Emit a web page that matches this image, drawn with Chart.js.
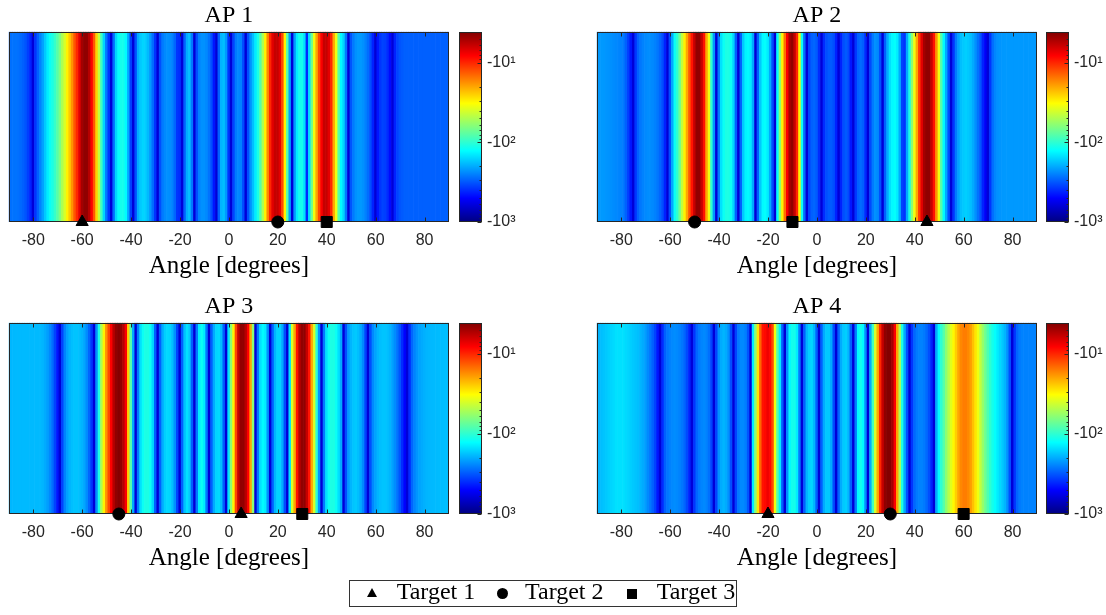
<!DOCTYPE html>
<html>
<head>
<meta charset="utf-8">
<script src="https://cdn.jsdelivr.net/npm/chart.js@4.4.0/dist/chart.umd.min.js"></script>
<style>
html,body{margin:0;padding:0;background:#fff;}
#wrap{position:relative;width:1106px;height:615px;overflow:hidden;background:#fff;}
canvas{position:absolute;}
#legend{position:absolute;left:349px;top:580px;width:388px;height:27px;box-sizing:border-box;border:1px solid #333;background:#fff;}
#legend .txt{position:absolute;top:-2px;font-family:"Liberation Serif",serif;font-size:24px;line-height:24px;color:#000;white-space:nowrap;}
#legend .tri{position:absolute;width:0;height:0;border-left:5.5px solid transparent;border-right:5.5px solid transparent;border-bottom:9.5px solid #000;}
#legend .dot{position:absolute;width:11.5px;height:11.5px;border-radius:50%;background:#000;}
#legend .sq{position:absolute;width:10.5px;height:10px;background:#000;}
</style>
</head>
<body>
<div id="wrap">
  <canvas id="h1" width="460" height="290" style="left:0px;top:0px"></canvas>
  <canvas id="c1" width="63" height="290" style="left:459px;top:0px"></canvas>
  <canvas id="h2" width="460" height="290" style="left:588px;top:0px"></canvas>
  <canvas id="c2" width="60" height="290" style="left:1046px;top:0px"></canvas>
  <canvas id="h3" width="460" height="291" style="left:0px;top:291px"></canvas>
  <canvas id="c3" width="63" height="291" style="left:459px;top:291px"></canvas>
  <canvas id="h4" width="460" height="291" style="left:588px;top:291px"></canvas>
  <canvas id="c4" width="60" height="291" style="left:1046px;top:291px"></canvas>
  <div id="legend">
    <span class="tri" style="left:16.7px;top:7px"></span>
    <span class="txt" style="left:46.7px">Target 1</span>
    <span class="dot" style="left:146.7px;top:6.7px"></span>
    <span class="txt" style="left:175px">Target 2</span>
    <span class="sq" style="left:276.7px;top:8px"></span>
    <span class="txt" style="left:306.7px">Target 3</span>
  </div>
</div>
<script>
// ---------------- data ----------------
const panelTitles = ['AP 1', 'AP 2', 'AP 3', 'AP 4'];
const angles = Array.from({length: 181}, (_, i) => i - 90);   // -90 ... 90 degrees
const xTickValues = [-80, -60, -40, -20, 0, 20, 40, 60, 80];
const axisLabel = 'Angle [degrees]';

// values for angles -90 ... 90 (one per degree)
const ap1Values = [
  -280,-275,-270,-270,-275,-285,-300,-320,-360,-420,
  -620,-380,-300,-250,-210,-170,-140,-120,-110,-95,
  -80,-65,-50,-40,-30,-24,-18,-13,-10,-7,
  -5,-4.5,-4.5,-5.5,-8,-13,-25,-45,-90,-160,
  -260,-380,-620,-280,-160,-125,-115,-115,-130,-200,
  -360,-620,-330,-200,-170,-160,-165,-185,-220,-280,
  -380,-620,-330,-260,-240,-230,-235,-250,-290,-380,
  -400,-620,-300,-200,-180,-260,-620,-330,-250,-230,
  -230,-240,-270,-330,-450,-620,-300,-190,-180,-220,
  -380,-620,-350,-260,-240,-250,-330,-620,-330,-230,
  -180,-140,-110,-80,-50,-30,-17,-10,-7,-6,
  -6,-7,-12,-30,-80,-220,-620,-220,-140,-115,
  -115,-150,-400,-150,-70,-35,-20,-12,-8,-6,
  -6,-7,-10,-20,-35,-80,-130,-160,-260,-620,
  -320,-260,-230,-220,-220,-230,-250,-280,-330,-420,
  -620,-450,-380,-350,-360,-400,-480,-620,-420,-350,
  -320,-310,-300,-300,-300,-300,-300,-300,-300,-300,
  -300,-300,-300,-300,-300,-300,-300,-300,-300,-300,
  -300
];
const ap2Values = [
  -220,-220,-220,-222,-225,-228,-232,-236,-240,-245,
  -250,-260,-300,-360,-450,-620,-380,-300,-265,-250,
  -240,-235,-235,-240,-250,-265,-290,-330,-420,-620,
  -330,-200,-120,-100,-70,-45,-30,-20,-13,-9,
  -6,-4.5,-4.5,-6,-9,-20,-35,-100,-220,-620,
  -260,-150,-120,-110,-110,-120,-160,-300,-620,-300,
  -170,-135,-130,-140,-200,-620,-300,-170,-130,-125,
  -140,-200,-330,-620,-130,-60,-30,-15,-8,-5,
  -4.5,-6,-10,-30,-120,-280,-620,-350,-300,-290,
  -310,-400,-620,-400,-330,-310,-310,-330,-420,-620,
  -420,-330,-310,-340,-450,-620,-380,-300,-280,-300,
  -400,-620,-340,-260,-230,-240,-330,-620,-300,-200,
  -150,-130,-125,-140,-200,-350,-380,-200,-110,-60,
  -35,-20,-11,-7,-5,-4.5,-4.5,-6,-9,-18,
  -35,-80,-130,-200,-330,-620,-380,-260,-210,-180,
  -170,-165,-170,-180,-200,-230,-270,-320,-420,-520,
  -620,-380,-280,-245,-230,-225,-222,-220,-220,-220,
  -220,-220,-220,-220,-220,-220,-220,-220,-220,-220,
  -220
];
const ap3Values = [
  -190,-188,-186,-185,-185,-185,-185,-185,-185,-185,
  -185,-185,-185,-185,-190,-200,-215,-240,-280,-350,
  -450,-620,-350,-250,-210,-190,-180,-175,-175,-180,
  -190,-205,-235,-290,-380,-620,-230,-110,-50,-30,
  -18,-12,-8,-5.5,-4.5,-4.2,-4.5,-5.5,-8,-25,
  -80,-200,-620,-260,-150,-120,-110,-110,-120,-160,
  -300,-620,-300,-200,-165,-155,-160,-180,-230,-350,
  -620,-300,-180,-150,-170,-300,-620,-260,-140,-120,
  -140,-260,-620,-300,-200,-160,-155,-180,-300,-620,
  -150,-60,-30,-12,-6,-4.5,-4.5,-5.5,-8,-20,
  -60,-620,-260,-150,-130,-140,-230,-620,-300,-190,
  -160,-160,-200,-330,-620,-150,-40,-20,-9,-5.5,
  -4.5,-4.5,-6,-9,-20,-40,-100,-230,-620,-260,
  -150,-120,-110,-110,-120,-150,-200,-620,-330,-220,
  -190,-175,-170,-180,-200,-240,-350,-620,-330,-240,
  -210,-190,-180,-175,-175,-180,-190,-210,-235,-270,
  -320,-400,-500,-620,-400,-290,-250,-225,-210,-200,
  -195,-190,-188,-186,-185,-184,-183,-182,-181,-180,
  -180
];
const ap4Values = [
  -200,-190,-180,-175,-170,-165,-160,-155,-150,-150,
  -150,-150,-155,-160,-165,-170,-175,-180,-190,-200,
  -215,-240,-265,-300,-350,-450,-620,-400,-300,-265,
  -250,-240,-235,-240,-250,-265,-290,-340,-420,-620,
  -380,-290,-260,-245,-240,-250,-275,-350,-620,-350,
  -230,-200,-190,-200,-230,-330,-620,-350,-260,-240,
  -240,-255,-320,-620,-140,-60,-28,-14,-9,-8.5,
  -7.5,-8.5,-12,-35,-80,-140,-300,-620,-230,-130,
  -115,-115,-140,-260,-620,-300,-190,-165,-160,-190,
  -300,-620,-300,-200,-170,-170,-200,-330,-620,-300,
  -200,-170,-165,-190,-300,-620,-260,-130,-115,-130,
  -230,-620,-200,-90,-40,-20,-10,-6,-4.5,-4.2,
  -4.2,-5,-8,-20,-50,-110,-200,-330,-620,-380,
  -290,-260,-250,-250,-260,-285,-330,-420,-620,-200,
  -130,-100,-80,-60,-48,-38,-31,-25,-20,-17,
  -16,-16,-17,-19,-23,-28,-35,-45,-57,-70,
  -85,-100,-115,-125,-140,-155,-170,-190,-230,-330,
  -620,-380,-290,-260,-250,-250,-250,-250,-250,-250,
  -250
];

// target angles per panel: [Target 1, Target 2, Target 3]
const target1Angles = [-60, 45, 5, -20];
const target2Angles = [20, -50, -45, 30];
const target3Angles = [40, -10, 30, 60];
const targetNames = ['Target 1', 'Target 2', 'Target 3'];

// colour bar (magnitudes of the negative values, log scale)
const cbTop = 4.1;      // |value| at top of the colour bar
const cbBottom = 1000;  // |value| at bottom of the colour bar
const cbTickValues = [10, 100, 1000];
const cbTickLabels = ['-10\u00B9', '-10\u00B2', '-10\u00B3'];
const cbMinorTicks = [5, 6, 7, 8, 9, 20, 30, 40, 50, 60, 70, 80, 90, 200, 300, 400, 500, 600, 700, 800, 900];

// ---------------- helpers ----------------
const AXIS_COLOR = '#262626';
function jet(t) {
  const c = x => Math.max(0, Math.min(1, x));
  return [c(Math.min(4 * t - 1.5, -4 * t + 4.5)), c(Math.min(4 * t - 0.5, -4 * t + 3.5)), c(Math.min(4 * t + 0.5, -4 * t + 2.5))];
}
function jetCss(t) {
  const [r, g, b] = jet(t);
  return 'rgb(' + Math.round(r * 255) + ',' + Math.round(g * 255) + ',' + Math.round(b * 255) + ')';
}
const lgTop = Math.log10(cbTop), lgBot = Math.log10(cbBottom);
function valueToColor(v) {
  const lg = Math.log10(Math.abs(v));
  const t = Math.max(0, Math.min(1, (lgBot - lg) / (lgBot - lgTop)));
  return jetCss(t);
}

const heatFrame = {
  id: 'heatFrame',
  afterDatasetDraw(chart, args) {
    if (args.index !== 0) return;
    const {ctx, chartArea: a, scales: {x}} = chart;
    ctx.save();
    ctx.strokeStyle = AXIS_COLOR;
    ctx.lineWidth = 1;
    const L = Math.round(a.left) + 0.5, R = Math.round(a.right) - 0.5;
    const T = Math.round(a.top) + 0.5, B = Math.round(a.bottom) - 0.5;
    ctx.strokeRect(L, T, R - L, B - T);
    ctx.beginPath();
    xTickValues.forEach(v => {
      const px = Math.round(x.getPixelForValue(v)) + 0.5;
      ctx.moveTo(px, T); ctx.lineTo(px, T + 4);
      ctx.moveTo(px, B); ctx.lineTo(px, B - 4);
    });
    ctx.stroke();
    ctx.restore();
  }
};

const cbFrame = {
  id: 'cbFrame',
  afterDatasetsDraw(chart) {
    const {ctx, chartArea: a, scales: {y}} = chart;
    ctx.save();
    ctx.strokeStyle = AXIS_COLOR;
    ctx.lineWidth = 1;
    const L = Math.round(a.left) + 0.5, R = Math.round(a.right) - 0.5;
    const T = Math.round(a.top) + 0.5, B = Math.round(a.bottom) - 0.5;
    ctx.strokeRect(L, T, R - L, B - T);
    ctx.beginPath();
    cbMinorTicks.forEach(v => {
      const py = Math.round(y.getPixelForValue(v)) + 0.5;
      ctx.moveTo(R, py); ctx.lineTo(R - 2, py);
    });
    cbTickValues.forEach(v => {
      const py = Math.round(y.getPixelForValue(v)) + 0.5;
      ctx.moveTo(R, py); ctx.lineTo(R - 4, py);
    });
    ctx.stroke();
    ctx.restore();
  }
};

function makeHeat(id, title, values, t1, t2, t3) {
  const bars = angles.map(a => ({x: a, y: [0, 1]}));
  const marker = (angle, style, r, name) => ({
    type: 'scatter', label: name, data: [{x: angle, y: 0}], pointStyle: style, radius: r,
    backgroundColor: '#000', borderColor: '#000', borderWidth: 1, clip: false, order: 0
  });
  new Chart(document.getElementById(id), {
    type: 'bar',
    data: {
      datasets: [
        {type: 'bar', data: bars, backgroundColor: values.map(valueToColor), borderWidth: 0,
         barPercentage: 1, categoryPercentage: 1, order: 10},
        marker(t1, 'triangle', 7, targetNames[0]),
        marker(t2, 'circle', 6, targetNames[1]),
        marker(t3, 'rect', 7.8, targetNames[2])
      ]
    },
    options: {
      responsive: false, animation: false, events: [],
      layout: {padding: {left: 8, right: 11, top: 0, bottom: 0}},
      plugins: {
        legend: {display: false}, tooltip: {enabled: false},
        title: {display: true, text: title, color: '#000', fullSize: false,
                font: {family: 'Liberation Serif', size: 24, weight: 'normal'}, padding: {top: 1, bottom: 2}}
      },
      scales: {
        x: {
          type: 'linear', min: -90, max: 90, offset: false,
          grid: {display: false, drawTicks: false}, border: {display: false},
          ticks: {font: {family: 'Liberation Sans', size: 16}, color: AXIS_COLOR, padding: 9, maxRotation: 0, autoSkip: false},
          afterBuildTicks: s => { s.ticks = xTickValues.map(v => ({value: v})); },
          afterFit: s => { s.height = 68; },
          title: {display: true, text: axisLabel, color: '#000',
                  font: {family: 'Liberation Serif', size: 25, weight: 'normal'}, padding: {top: 0, bottom: 9}}
        },
        y: {type: 'linear', min: 0, max: 1, display: false}
      }
    },
    plugins: [heatFrame]
  });
}

function makeColorbar(id, axisWidth, bottomPad) {
  new Chart(document.getElementById(id), {
    type: 'bar',
    data: {
      labels: [''],
      datasets: [{
        data: [[cbTop, cbBottom]], borderWidth: 0, barPercentage: 1, categoryPercentage: 1, inflateAmount: 0,
        backgroundColor: (ctx) => {
          const a = ctx.chart.chartArea;
          if (!a) return '#00f';
          const g = ctx.chart.ctx.createLinearGradient(0, a.bottom, 0, a.top);
          [0, 0.125, 0.375, 0.625, 0.875, 1].forEach(t => g.addColorStop(t, jetCss(t)));
          return g;
        }
      }]
    },
    options: {
      responsive: false, animation: false, events: [],
      layout: {padding: {left: 0, right: 0, top: 32, bottom: bottomPad}},
      plugins: {legend: {display: false}, tooltip: {enabled: false}},
      scales: {
        x: {display: false},
        y: {
          type: 'logarithmic', position: 'right', reverse: true, min: cbTop, max: cbBottom,
          grid: {display: false, drawTicks: false}, border: {display: false},
          ticks: {font: {family: 'Liberation Sans', size: 16}, color: AXIS_COLOR, padding: 5,
                  callback: (v, i) => cbTickLabels[i]},
          afterBuildTicks: s => { s.ticks = cbTickValues.map(v => ({value: v})); },
          afterFit: s => { s.width = axisWidth; }
        }
      }
    },
    plugins: [cbFrame]
  });
}

const allValues = [ap1Values, ap2Values, ap3Values, ap4Values];
for (let p = 0; p < 4; p++) {
  makeHeat('h' + (p + 1), panelTitles[p], allValues[p], target1Angles[p], target2Angles[p], target3Angles[p]);
}
makeColorbar('c1', 40, 68);
makeColorbar('c2', 37, 68);
makeColorbar('c3', 40, 68);
makeColorbar('c4', 37, 68);
</script>
</body>
</html>
